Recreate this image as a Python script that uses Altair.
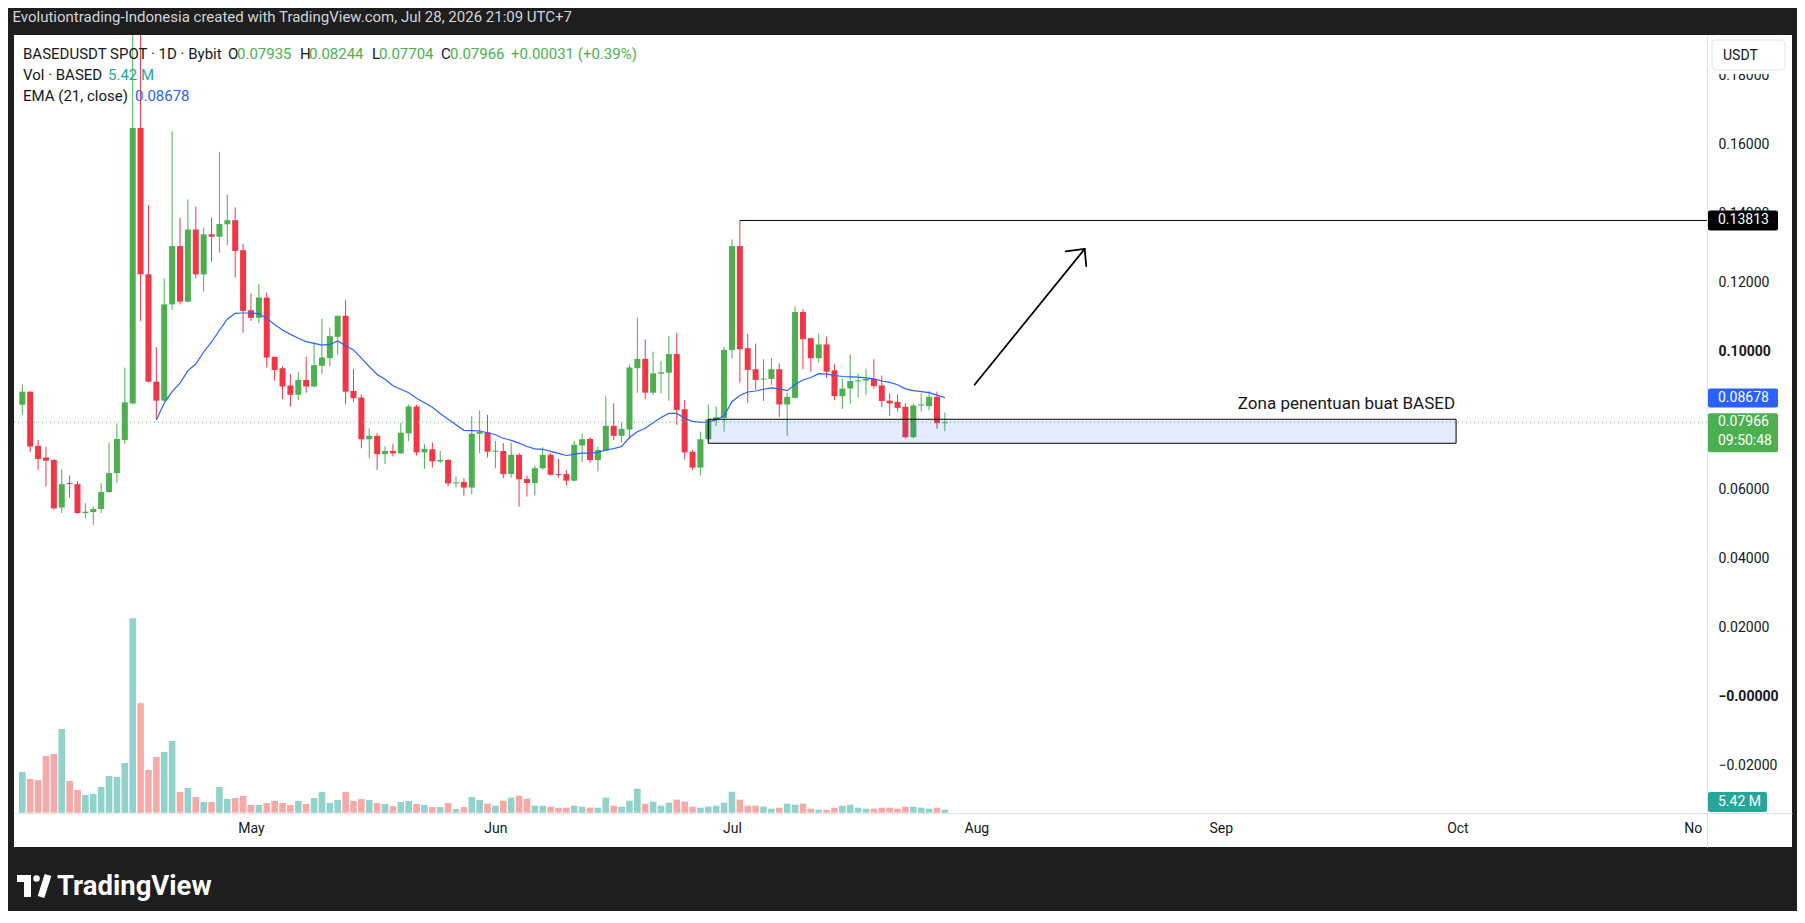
import altair as alt
import pandas as pd

# ---------------- data ----------------
START = "2026-04-02"
N_DAYS = 118

opens = [0.0847, 0.0885, 0.0728, 0.0694, 0.0687, 0.0549, 0.0620, 0.0617, 0.0533, 0.0536,
         0.0545, 0.0594, 0.0649, 0.0745, 0.0851, 0.1649, 0.1225, 0.0914, 0.0859, 0.1138,
         0.1307, 0.1146, 0.1355, 0.1225, 0.1341, 0.1334, 0.1370, 0.1382, 0.1295, 0.1121,
         0.1099, 0.1158, 0.0986, 0.0953, 0.0903, 0.0876, 0.0919, 0.0900, 0.0960, 0.0982,
         0.1044, 0.1105, 0.0887, 0.0868, 0.0747, 0.0757, 0.0704, 0.0713, 0.0706, 0.0764,
         0.0842, 0.0709, 0.0718, 0.0683, 0.0687, 0.0619, 0.0623, 0.0607, 0.0763, 0.0767,
         0.0711, 0.0713, 0.0646, 0.0702, 0.0632, 0.0620, 0.0663, 0.0702, 0.0646, 0.0646,
         0.0627, 0.0729, 0.0748, 0.0687, 0.0714, 0.0786, 0.0757, 0.0775, 0.0953, 0.0980,
         0.0882, 0.0937, 0.0940, 0.0994, 0.0834, 0.0711, 0.0665, 0.0747, 0.0804, 0.0809,
         0.1006, 0.1307, 0.1011, 0.0950, 0.0920, 0.0922, 0.0950, 0.0848, 0.0867, 0.1116,
         0.1040, 0.0982, 0.1022, 0.0947, 0.0872, 0.0894, 0.0915, 0.0917, 0.0922, 0.0903,
         0.0859, 0.0855, 0.0841, 0.0753, 0.0845, 0.0843, 0.0870, 0.07935]
highs = [0.0906, 0.0886, 0.0745, 0.0724, 0.0690, 0.0660, 0.0642, 0.0625, 0.0562, 0.0552,
         0.0620, 0.0738, 0.0793, 0.0955, 0.2300, 0.2200, 0.1426, 0.1014, 0.1213, 0.1640,
         0.1389, 0.1442, 0.1421, 0.1361, 0.1390, 0.1580, 0.1456, 0.1419, 0.1313, 0.1170,
         0.1197, 0.1172, 0.0986, 0.0958, 0.0936, 0.0941, 0.0986, 0.1028, 0.1096, 0.1071,
         0.1105, 0.1151, 0.0951, 0.0877, 0.0779, 0.0765, 0.0726, 0.0734, 0.0795, 0.0848,
         0.0847, 0.0733, 0.0738, 0.0713, 0.0690, 0.0639, 0.0634, 0.0815, 0.0831, 0.0818,
         0.0742, 0.0736, 0.0738, 0.0707, 0.0642, 0.0670, 0.0724, 0.0707, 0.0690, 0.0658,
         0.0742, 0.0763, 0.0752, 0.0726, 0.0871, 0.0851, 0.0796, 0.0964, 0.1100, 0.1037,
         0.1001, 0.0974, 0.1046, 0.1056, 0.0861, 0.0716, 0.0769, 0.0847, 0.0842, 0.1015,
         0.1326, 0.13813, 0.1053, 0.1025, 0.0979, 0.0982, 0.0967, 0.0882, 0.1132, 0.1124,
         0.1041, 0.1053, 0.1044, 0.0964, 0.0923, 0.0993, 0.0938, 0.0951, 0.0979, 0.0932,
         0.0880, 0.0877, 0.0851, 0.0851, 0.0880, 0.0887, 0.0885, 0.08244]
lows = [0.0818, 0.0710, 0.0658, 0.0610, 0.0543, 0.0533, 0.0578, 0.0531, 0.0518, 0.0499,
        0.0533, 0.0591, 0.0620, 0.0733, 0.0848, 0.1090, 0.0912, 0.0803, 0.0857, 0.1122,
        0.1138, 0.1144, 0.1213, 0.1175, 0.1262, 0.1288, 0.1310, 0.1216, 0.1056, 0.1090,
        0.1083, 0.0955, 0.0917, 0.0863, 0.0842, 0.0861, 0.0882, 0.0897, 0.0936, 0.0958,
        0.0993, 0.0848, 0.0856, 0.0721, 0.0692, 0.0658, 0.0675, 0.0697, 0.0705, 0.0742,
        0.0700, 0.0661, 0.0665, 0.0678, 0.0610, 0.0608, 0.0584, 0.0588, 0.0707, 0.0694,
        0.0663, 0.0634, 0.0636, 0.0552, 0.0581, 0.0584, 0.0658, 0.0642, 0.0636, 0.0613,
        0.0625, 0.0681, 0.0678, 0.0654, 0.0714, 0.0745, 0.0738, 0.0748, 0.0882, 0.0863,
        0.0876, 0.0880, 0.0859, 0.0789, 0.0689, 0.0658, 0.0642, 0.0740, 0.0786, 0.0769,
        0.0981, 0.0911, 0.0853, 0.0891, 0.0858, 0.0904, 0.0811, 0.0756, 0.0865, 0.0950,
        0.0943, 0.0969, 0.0925, 0.0860, 0.0835, 0.0850, 0.0869, 0.0875, 0.0894, 0.0840,
        0.0814, 0.0827, 0.0749, 0.0749, 0.0828, 0.0831, 0.0778, 0.07704]
closes = [0.0885, 0.0726, 0.0690, 0.0685, 0.0547, 0.0617, 0.0617, 0.0533, 0.0537, 0.0545,
          0.0594, 0.0649, 0.0748, 0.0854, 0.1649, 0.1225, 0.0914, 0.0859, 0.1138, 0.1307,
          0.1146, 0.1355, 0.1225, 0.1341, 0.1334, 0.1371, 0.1382, 0.1293, 0.1119, 0.1099,
          0.1158, 0.0984, 0.0948, 0.0900, 0.0876, 0.0919, 0.0900, 0.0962, 0.0984, 0.1046,
          0.1105, 0.0885, 0.0866, 0.0747, 0.0757, 0.0704, 0.0713, 0.0706, 0.0766, 0.0842,
          0.0709, 0.0719, 0.0683, 0.0687, 0.0619, 0.0622, 0.0607, 0.0763, 0.0769, 0.0711,
          0.0714, 0.0646, 0.0702, 0.0631, 0.0620, 0.0663, 0.0702, 0.0644, 0.0643, 0.0627,
          0.0731, 0.0747, 0.0687, 0.0716, 0.0786, 0.0757, 0.0777, 0.0955, 0.0980, 0.0882,
          0.0938, 0.0941, 0.0994, 0.0832, 0.0709, 0.0665, 0.0747, 0.0805, 0.0811, 0.1006,
          0.1307, 0.1008, 0.0948, 0.0919, 0.0923, 0.0950, 0.0848, 0.0870, 0.1116, 0.1037,
          0.0982, 0.1022, 0.0943, 0.0872, 0.0894, 0.0916, 0.0918, 0.0922, 0.0901, 0.0858,
          0.0851, 0.0838, 0.0753, 0.0845, 0.0848, 0.0870, 0.07935, 0.07966]
volumes_m = [73.5, 60.8, 59.0, 102.4, 106.0, 151.2, 57.2, 40.9, 31.9, 33.7,
             46.4, 66.2, 64.4, 89.7, 351.1, 197.5, 77.1, 100.6, 109.6, 129.5,
             37.3, 44.6, 28.3, 19.3, 19.3, 46.4, 24.7, 26.5, 30.1, 13.9,
             13.9, 17.5, 21.1, 17.5, 13.9, 21.1, 15.7, 26.5, 37.3, 17.5,
             22.9, 37.3, 21.1, 24.7, 22.9, 17.5, 15.7, 12.0, 19.3, 21.1,
             15.7, 13.9, 10.2, 10.2, 17.5, 6.6, 10.2, 28.3, 22.9, 16.3,
             12.6, 21.7, 27.1, 30.7, 25.3, 12.6, 12.6, 10.8, 9.0, 9.0,
             12.6, 10.8, 9.0, 9.0, 27.1, 12.6, 10.8, 21.7, 43.4, 16.3,
             19.9, 12.6, 18.1, 23.5, 19.9, 10.8, 9.0, 10.8, 12.6, 18.1,
             37.9, 23.5, 12.6, 12.6, 10.8, 7.2, 9.0, 16.3, 14.5, 16.3,
             7.2, 5.4, 5.4, 9.0, 12.6, 14.5, 9.0, 7.2, 7.2, 9.0,
             9.0, 7.2, 10.8, 10.8, 9.0, 7.2, 9.0, 5.42]
ema21 = [None] * 17 + [
    0.0803, 0.0852, 0.0885, 0.0910, 0.0946, 0.0965, 0.1000, 0.1029, 0.1063, 0.1095,
    0.1112, 0.1113, 0.1113, 0.1111, 0.1097, 0.1080, 0.1064, 0.1051, 0.1040, 0.1030,
    0.1025, 0.1020, 0.1022, 0.1032, 0.1018, 0.1006, 0.0982, 0.0958, 0.0935, 0.0921,
    0.0902, 0.0892, 0.0882, 0.0866, 0.0853, 0.0840, 0.0822, 0.0805, 0.0789, 0.0773,
    0.0772, 0.0771, 0.0766, 0.0760, 0.0750, 0.0744, 0.0736, 0.0726, 0.0719, 0.0718,
    0.0712, 0.0706, 0.0700, 0.0704, 0.0707, 0.0707, 0.0709, 0.0716, 0.0720, 0.0726,
    0.0752, 0.0769, 0.0779, 0.0795, 0.0810, 0.0822, 0.0822, 0.0808, 0.0799, 0.0796,
    0.0797, 0.0803, 0.0815, 0.0856, 0.0874, 0.0884, 0.0887, 0.0892, 0.0896, 0.0893,
    0.0888, 0.0906, 0.0919, 0.0926, 0.0937, 0.0936, 0.0932, 0.0929, 0.0928, 0.0927,
    0.0925, 0.0922, 0.0916, 0.0912, 0.0905, 0.0893, 0.0888, 0.0885, 0.0882, 0.0875,
    0.08678]

month_ticks = ["2026-05-01", "2026-06-01", "2026-07-01", "2026-08-01",
               "2026-09-01", "2026-10-01", "2026-11-01"]
price_ticks = [-0.02, 0.0, 0.02, 0.04, 0.06, 0.08, 0.10, 0.12, 0.14, 0.16, 0.18]

# drawings on the chart (in data coordinates)
swing_high_date = "2026-07-02"
swing_high = 0.13813
zone_start, zone_end = "2026-06-28", "2026-09-30T20:00:00Z"
zone_top, zone_bottom = 0.0805, 0.07354
zone_label = "Zona penentuan buat BASED"
arrow_x = ["2026-07-31T18:30:00Z", "2026-08-14T17:30:00Z", "2026-08-14T17:30:00Z"]
arrow_x2 = ["2026-08-14T17:30:00Z", "2026-08-12T08:00:00Z", "2026-08-14T22:20:00Z"]
arrow_y = [0.09052, 0.12986, 0.12986]
arrow_y2 = [0.12986, 0.12919, 0.12484]
countdown = "09:50:48"
header = "Evolutiontrading-Indonesia created with TradingView.com, Jul 28, 2026 21:09 UTC+7"

# ---------------- styling ----------------
W, H = 1778, 812
GREEN, RED = "#4caf50", "#f23645"
TEAL, PINK = "#26a69a", "#ef5350"
BLUE = "#2962ff"
INK = "#131722"
FONT = "Roboto"
Y_DOM = [-0.04348, 0.19188]
PX = H / (Y_DOM[1] - Y_DOM[0])   # pixels per price unit
AXIS_X = W - 85                   # pixel of the price-axis line

dates = pd.date_range(START, periods=N_DAYS, freq="D").strftime("%Y-%m-%d").tolist()
df = pd.DataFrame({"date": dates, "open": opens, "high": highs, "low": lows,
                   "close": closes, "vol": volumes_m, "ema": ema21})


def ms(s):
    t = pd.Timestamp(s)
    if t.tzinfo is None:
        t = t.tz_localize("UTC")
    return int(t.value // 10**6)


start_ms = ms(START)
DAY = 86400000
x_dom = [start_ms - int(0.42 * DAY), start_ms + int(223.8 * DAY)]
xscale = alt.Scale(type="utc", domain=x_dom)
yscale = alt.Scale(domain=Y_DOM, nice=False, zero=False)

xaxis = alt.Axis(
    orient="bottom", offset=-34, values=[ms(m) for m in month_ticks],
    labelExpr="utcmonth(datum.value) == 10 ? 'No' : utcFormat(datum.value, '%b')",
    labelAlign={"condition": {"test": "utcmonth(datum.value) == 10", "value": "right"},
                "value": "center"},
    ticks=False, grid=False, domainColor="#e0e3eb", labelPadding=8,
    labelFontSize=14, labelColor=INK, labelFont=FONT, labelFlush=False,
    labelOverlap=False, title=None)
yaxis = alt.Axis(
    orient="right", offset=-85, values=price_ticks,
    labelExpr="abs(datum.value) < 1e-9 ? '\u22120.00000' : format(datum.value, '.5f')",
    labelFontWeight={"condition": {"test": "abs(datum.value) < 1e-9 || abs(datum.value - 0.1) < 1e-9",
                                   "value": "bold"}, "value": "normal"},
    ticks=False, grid=False, domainColor="#e0e3eb", labelPadding=11,
    labelFontSize=14, labelColor=INK, labelFont=FONT, labelOverlap=False, title=None)


def X(f):
    return alt.X(f, type="temporal", scale=xscale, axis=xaxis, title=None)


def Y(f):
    return alt.Y(f, type="quantitative", scale=yscale, axis=yaxis, title=None)


up = alt.datum.close >= alt.datum.open
candle_color = alt.when(up).then(alt.value(GREEN)).otherwise(alt.value(RED))
vol_color = alt.when(up).then(alt.value(TEAL)).otherwise(alt.value(PINK))

base = alt.Chart(df)

volume = base.mark_bar(size=6.6, opacity=0.5).encode(
    x=X("date"),
    y=alt.Y("vol:Q", scale=alt.Scale(domain=[-62.0, 1405.1], nice=False, zero=False), axis=None),
    y2=alt.datum(0),
    color=vol_color)

wicks = base.mark_rule(strokeWidth=1, clip=True).encode(
    x=X("date"), y=Y("low"), y2="high", color=candle_color)
bodies = base.mark_bar(size=6, clip=True).encode(
    x=X("date"), y=Y("open"), y2="close", color=candle_color)
ema_line = base.mark_line(color=BLUE, strokeWidth=1.2).encode(x=X("date"), y=Y("ema"))

last = df.iloc[[-1]]
last_line = alt.Chart(last).mark_rule(color="#6fae74", strokeDash=[1, 3], strokeWidth=1).encode(
    x=alt.value(0), x2=alt.value(AXIS_X), y=Y("close"))

hl = pd.DataFrame({"d": [swing_high_date], "p": [swing_high]})
hline = alt.Chart(hl).mark_rule(color="black", strokeWidth=1).encode(
    x=X("d"), x2=alt.value(AXIS_X), y=Y("p"))

zone_df = pd.DataFrame({"x": [zone_start], "x2": [zone_end], "y": [zone_top],
                        "y2": [zone_bottom], "t": [zone_label]})
zone = alt.Chart(zone_df).mark_rect(fill=BLUE, fillOpacity=0.12, stroke="black",
                                    strokeWidth=1).encode(
    x=X("x"), x2="x2", y=Y("y"), y2="y2")
zone_text = alt.Chart(zone_df).mark_text(align="right", baseline="alphabetic", dy=-10, dx=-1,
                                         fontSize=17, font=FONT, color=INK).encode(
    x=X("x2"), y=Y("y"), text="t:N")

arrow_df = pd.DataFrame({"x": arrow_x, "x2": arrow_x2, "y": arrow_y, "y2": arrow_y2})
arrow = alt.Chart(arrow_df).mark_rule(color="black", strokeWidth=1.8, strokeCap="round").encode(
    x=X("x"), x2="x2", y=Y("y"), y2="y2")


def tag(price, label, color, up_px, down_px, extra=None):
    d = pd.DataFrame({"p": [price], "t": [label]})
    rect = alt.Chart(d).transform_calculate(
        a=f"datum.p + {up_px / PX}", b=f"datum.p - {down_px / PX}"
    ).mark_rect(color=color, cornerRadius=2).encode(
        x=alt.value(AXIS_X + 1), x2=alt.value(AXIS_X + 71), y=Y("a:Q"), y2="b:Q")
    text = alt.Chart(d).mark_text(align="left", baseline="middle", color="white",
                                  fontSize=14, font=FONT, dx=0).encode(
        x=alt.value(AXIS_X + 11), y=Y("p:Q"), text="t:N")
    layers = [rect, text]
    if extra is not None:
        layers.append(alt.Chart(pd.DataFrame({"p": [price], "t": [extra]})).mark_text(
            align="left", baseline="middle", color="white", fontSize=14, font=FONT, dy=19
        ).encode(x=alt.value(AXIS_X + 11), y=Y("p:Q"), text="t:N"))
    return layers


def txt(s, x, y, color=INK, size=15, weight="normal", align="left", baseline="alphabetic"):
    return alt.Chart(pd.DataFrame({"t": [s]})).mark_text(
        align=align, baseline=baseline, fontSize=size, fontWeight=weight,
        color=color, font=FONT).encode(x=alt.value(x), y=alt.value(y), text="t:N")


def box(x, x2, y, y2, fill, stroke=None, radius=0):
    kw = dict(fill=fill, cornerRadius=radius)
    if stroke:
        kw.update(stroke=stroke, strokeWidth=1)
    return alt.Chart(pd.DataFrame({"a": [0]})).mark_rect(**kw).encode(
        x=alt.value(x), x2=alt.value(x2), y=alt.value(y), y2=alt.value(y2))


o, h, l, c = opens[-1], highs[-1], lows[-1], closes[-1]
chg = c - closes[-2]
pct = chg / closes[-2] * 100

legend = [
    txt("BASEDUSDT SPOT \u00b7 1D \u00b7 Bybit", 9, 24),
    txt("O", 214, 24), txt(f"{o:.5f}", 223, 24, GREEN),
    txt("H", 286, 24), txt(f"{h:.5f}", 295, 24, GREEN),
    txt("L", 358, 24), txt(f"{l:.5f}", 365, 24, GREEN),
    txt("C", 427, 24), txt(f"{c:.5f}", 436, 24, GREEN),
    txt(f"{chg:+.5f} ({pct:+.2f}%)", 497, 24, GREEN),
    txt("Vol \u00b7 BASED", 9, 45), txt(f"{volumes_m[-1]:.2f} M", 94, 45, TEAL),
    txt("EMA (21, close)", 9, 66), txt(f"{ema21[-1]:.5f}", 121, 66, BLUE),
]

axis_boxes = [
    box(AXIS_X + 1, W, 0, 39, "white"),
    box(AXIS_X + 5, AXIS_X + 78, 5, 35, "white", "#e0e3eb", 4),
    txt("USDT", AXIS_X + 16, 25, INK, 14),
    box(AXIS_X + 1, AXIS_X + 60, 757, 777, TEAL, None, 2),
    txt(f"{volumes_m[-1]:.2f} M", AXIS_X + 11, 767, "white", 14, baseline="middle"),
]

footer = [
    box(3, 17, 840, 847, "white"),
    box(10, 17, 840, 862, "white"),
    alt.Chart(pd.DataFrame({"a": [0]})).mark_circle(color="white", opacity=1, size=42).encode(
        x=alt.value(22.5), y=alt.value(843.5)),
    alt.Chart(pd.DataFrame({"a": [0]})).mark_rule(color="white", strokeWidth=7).encode(
        x=alt.value(34), x2=alt.value(27), y=alt.value(840), y2=alt.value(862)),
    txt("TradingView", 43, 860, "white", 27.5, "bold"),
]

price = alt.layer(
    wicks, bodies, ema_line, last_line, hline, arrow, zone, zone_text,
    *tag(swing_high, f"{swing_high:.5f}", "black", 10, 10),
    *tag(ema21[-1], f"{ema21[-1]:.5f}", BLUE, 9, 10),
    *tag(c, f"{c:.5f}", GREEN, 9, 30, countdown),
    *legend, *axis_boxes, *footer,
)

chart = alt.layer(volume, price).resolve_scale(y="independent").properties(
    width=W, height=H,
    padding={"left": 6, "top": 27, "right": 5, "bottom": 64},
    autosize=alt.AutoSizeParams(type="none"),
    title=alt.Title(header, anchor="start", color="#d1d4dc", fontSize=15, font=FONT,
                    fontWeight="normal", offset=10, dx=-1),
).configure(background="#1e1e1e").configure_view(fill="white", strokeWidth=0)

chart.save("out.html", embed_options={"renderer": "svg", "actions": False})
